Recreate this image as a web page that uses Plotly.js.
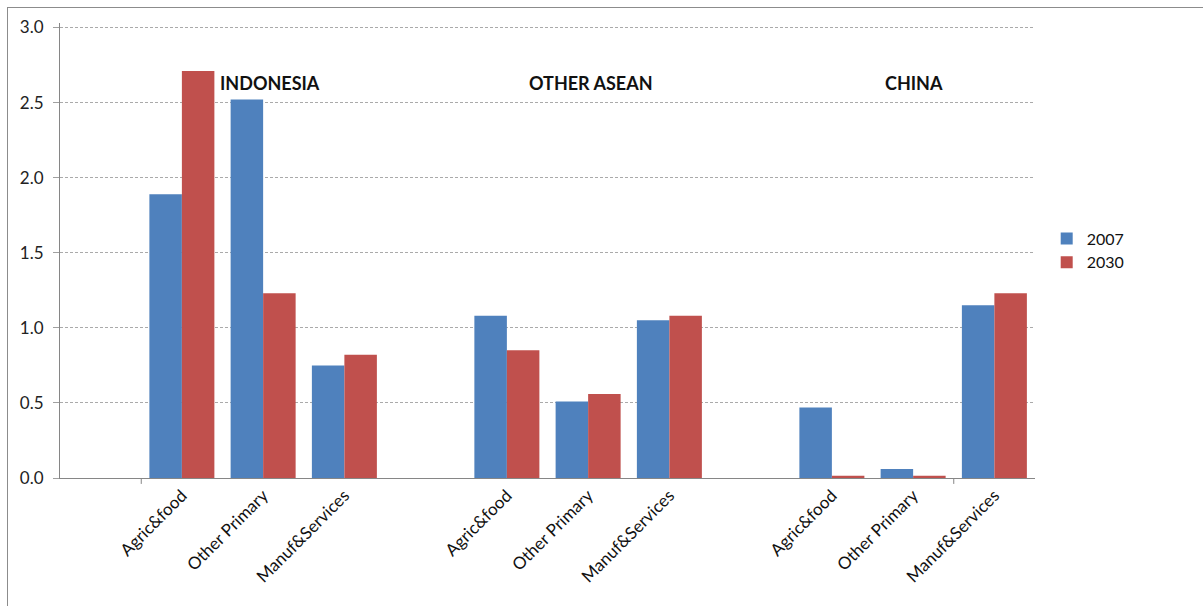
<!DOCTYPE html>
<html>
<head>
<meta charset="utf-8">
<script src="https://cdn.plot.ly/plotly-3.0.1.min.js"></script>
<style>
  html, body { margin: 0; padding: 0; background: #fff; }
  #chart { width: 1203px; height: 606px; }
  #frame { position: absolute; left: 7px; top: 7px; width: 1210px; height: 620px;
           border: 1px solid #8c8c8c; pointer-events: none; }
</style>
</head>
<body>
<div id="chart"></div>
<div id="frame"></div>
<script>
// Regions and sectors shown on the chart
const regions = ["INDONESIA", "OTHER ASEAN", "CHINA"];
const sectors = ["Agric&food", "Other Primary", "Manuf&Services"];

// Values per region, in sector order
const values2007 = [
  [1.89, 2.52, 0.75],   // Indonesia
  [1.08, 0.51, 1.05],   // Other ASEAN
  [0.47, 0.06, 1.15]    // China
];
const values2030 = [
  [2.71, 1.23, 0.82],
  [0.85, 0.56, 1.08],
  [0.015, 0.015, 1.23]
];

const yTicks = [0, 0.5, 1.0, 1.5, 2.0, 2.5, 3.0];

// Each region takes three slots followed by one empty spacer slot
const xs = [], labels = [], y07 = [], y30 = [];
regions.forEach((r, g) => {
  sectors.forEach((s, i) => {
    xs.push(1 + g * 4 + i);
    labels.push(s);
    y07.push(values2007[g][i]);
    y30.push(values2030[g][i]);
  });
});

const font = "Lato, 'Open Sans', sans-serif";

const traces = [
  { type: "bar", name: "2007", x: xs, y: y07, marker: { color: "#4F81BD" } },
  { type: "bar", name: "2030", x: xs, y: y30, marker: { color: "#C0504D" } }
];

// Region titles sit over the middle sector of each block
const titleOffset = [0.09, 0.04, 0.01];
const annotations = regions.map((r, g) => ({
  x: 2 + g * 4 + titleOffset[g], y: 2.63, xref: "x", yref: "y",
  text: "<b>" + r + "</b>", showarrow: false,
  font: { family: font, size: 18, color: "#111" }
}));

// Two category-axis tick marks, as in the source chart
const tickMarks = [0.5, 10.5].map(v => ({
  type: "line", xref: "x", yref: "paper",
  x0: v, x1: v, y0: 0, y1: -0.013,
  line: { color: "#868686", width: 1 }
}));

const layout = {
  width: 1203, height: 606,
  margin: { l: 60, r: 168, t: 23, b: 128 },
  paper_bgcolor: "#fff", plot_bgcolor: "#fff",
  barmode: "group", bargap: 0.2, bargroupgap: 0,
  showlegend: true,
  legend: {
    x: 1.012, y: 0.5, xanchor: "left", yanchor: "middle",
    font: { family: font, size: 16, color: "#111" },
    itemwidth: 30, tracegroupgap: 4
  },
  xaxis: {
    range: [-0.5, 11.5],
    tickmode: "array", tickvals: xs, ticktext: labels,
    tickangle: -45, ticks: "",
    showgrid: false, zeroline: false,
    showline: true, linecolor: "#868686", linewidth: 1,
    tickfont: { family: font, size: 17, color: "#111" }
  },
  yaxis: {
    range: [0, 3.03], tickmode: "array", tickvals: yTicks,
    tickformat: ".1f",
    showgrid: true, gridcolor: "#aaaaaa", griddash: "3px,2px", gridwidth: 1,
    zeroline: false,
    showline: true, linecolor: "#868686", linewidth: 1,
    ticks: "outside", ticklen: 6, tickcolor: "#a0a0a0",
    ticklabelstandoff: 6,
    tickfont: { family: font, size: 17, color: "#222" }
  },
  annotations: annotations,
  shapes: tickMarks
};

Plotly.newPlot("chart", traces, layout, { displayModeBar: false, staticPlot: true });
</script>
</body>
</html>
